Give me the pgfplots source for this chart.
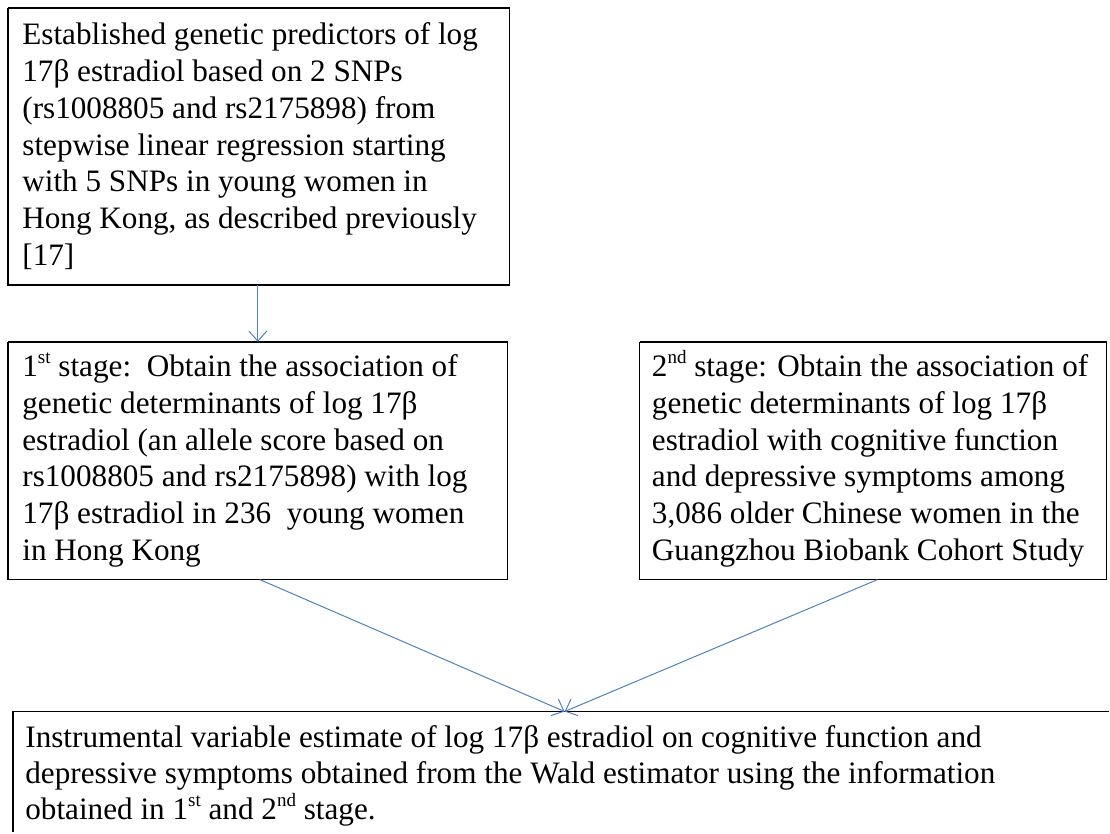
\documentclass[border=0pt]{standalone}
\usepackage{pgfplots}
\pgfplotsset{compat=1.18}
\usepackage{fontspec}
\setmainfont{Liberation Serif}
\usetikzlibrary{arrows.meta}
\definecolor{arr}{RGB}{79,129,189}
\newcommand\fs{\fontsize{15.6}{18}\selectfont}
\newcommand\sups[1]{\raisebox{0.42em}{\fontsize{9.5}{10}\selectfont #1}}
\begin{document}
\begin{tikzpicture}
\begin{axis}[scale only axis, width=555pt, height=416.5pt,
  xmin=0, xmax=1110, ymin=0, ymax=833, y dir=reverse,
  axis lines=none, ticks=none, clip=false]
\addplot[draw=none] coordinates {(0,0) (1110,833)};
% boxes
\addplot[black, line width=0.75pt, line join=miter] coordinates {(8,8) (510,8) (510,285) (8,285) (8,8)};
\addplot[black, line width=0.75pt, line join=miter] coordinates {(8,342) (508,342) (508,580) (8,580) (8,342)};
\addplot[black, line width=0.75pt, line join=miter] coordinates {(640,342) (1107,342) (1107,580) (640,580) (640,342)};
\addplot[black, line width=0.75pt, line join=miter] coordinates {(1110,712) (13,712) (13,833)};
% arrows
\addplot[arr, line width=0.5pt, -{Straight Barb[length=5pt,width=9pt]}] coordinates {(258,285) (258,342)};
\addplot[arr, line width=0.5pt, -{Straight Barb[length=5pt,width=9pt]}] coordinates {(260,580) (565,712)};
\addplot[arr, line width=0.5pt, -{Straight Barb[length=5pt,width=9pt]}] coordinates {(878,580) (565,712)};
% box 1 text
\node[anchor=base west, inner sep=0, font=\fs] at (axis cs:22,45) {Established genetic predictors of log};
\node[anchor=base west, inner sep=0, font=\fs] at (axis cs:22,81.7) {17β estradiol based on 2 SNPs};
\node[anchor=base west, inner sep=0, font=\fs] at (axis cs:22,118.4) {(rs1008805 and rs2175898) from};
\node[anchor=base west, inner sep=0, font=\fs] at (axis cs:22,155.1) {stepwise linear regression starting};
\node[anchor=base west, inner sep=0, font=\fs] at (axis cs:22,191.8) {with 5 SNPs in young women in};
\node[anchor=base west, inner sep=0, font=\fs] at (axis cs:22,228.5) {Hong Kong, as described previously};
\node[anchor=base west, inner sep=0, font=\fs] at (axis cs:22,265.2) {[17]};
% box 2 text
\node[anchor=base west, inner sep=0, font=\fs] at (axis cs:22,377) {1\sups{st} stage:\ \ Obtain the association of};
\node[anchor=base west, inner sep=0, font=\fs] at (axis cs:22,413.7) {genetic determinants of log\ 17β};
\node[anchor=base west, inner sep=0, font=\fs] at (axis cs:22,450.4) {estradiol (an allele score based on};
\node[anchor=base west, inner sep=0, font=\fs] at (axis cs:22,487.1) {rs1008805 and rs2175898) with log};
\node[anchor=base west, inner sep=0, font=\fs] at (axis cs:22,523.8) {17β estradiol in 236\ \ young women};
\node[anchor=base west, inner sep=0, font=\fs] at (axis cs:22,560.5) {in Hong Kong};
% box 3 text
\node[anchor=base west, inner sep=0, font=\fs] at (axis cs:652,377) {2\sups{nd} stage: Obtain the association of};
\node[anchor=base west, inner sep=0, font=\fs] at (axis cs:652,413.7) {genetic determinants of log 17β};
\node[anchor=base west, inner sep=0, font=\fs] at (axis cs:652,450.4) {estradiol with cognitive function};
\node[anchor=base west, inner sep=0, font=\fs] at (axis cs:652,487.1) {and depressive symptoms among};
\node[anchor=base west, inner sep=0, font=\fs] at (axis cs:652,523.8) {3,086 older Chinese women in the};
\node[anchor=base west, inner sep=0, font=\fs] at (axis cs:652,560.5) {Guangzhou Biobank Cohort Study};
% box 4 text
\node[anchor=base west, inner sep=0, font=\fs] at (axis cs:25,748) {Instrumental variable estimate of log 17β estradiol on cognitive function and};
\node[anchor=base west, inner sep=0, font=\fs] at (axis cs:25,784) {depressive symptoms obtained from the Wald estimator using the information};
\node[anchor=base west, inner sep=0, font=\fs] at (axis cs:25,820) {obtained in 1\sups{st} and 2\sups{nd} stage.};
\end{axis}
\end{tikzpicture}
\end{document}
